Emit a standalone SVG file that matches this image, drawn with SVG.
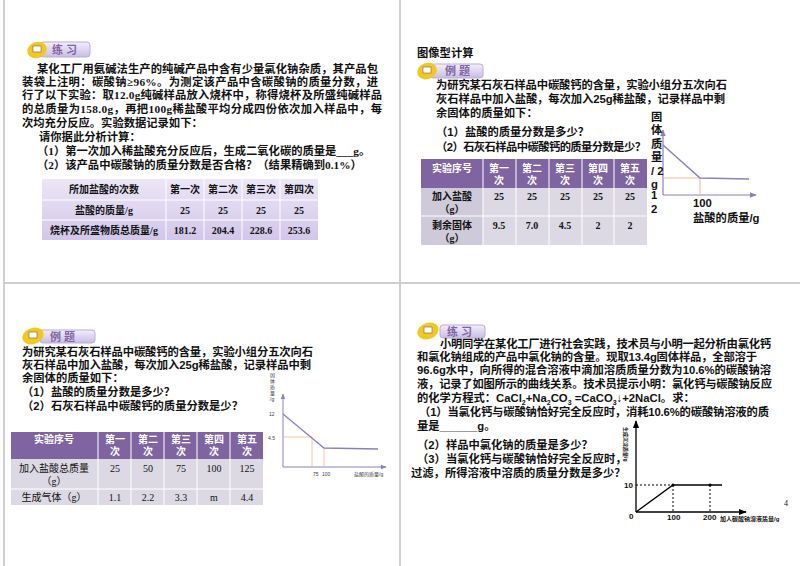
<svg xmlns="http://www.w3.org/2000/svg" width="800" height="566" viewBox="0 0 800 566">
<defs>
<linearGradient id="lav" x1="0" y1="0" x2="0" y2="1"><stop offset="0" stop-color="#ece6f6"/><stop offset="1" stop-color="#d2c6ea"/></linearGradient>
<linearGradient id="badge" x1="0" y1="0" x2="0" y2="1"><stop offset="0" stop-color="#f3eefb"/><stop offset="1" stop-color="#c9bde3"/></linearGradient>
<marker id="ar" viewBox="0 0 10 10" refX="9" refY="5" markerWidth="6" markerHeight="6" orient="auto"><path d="M0,1 L10,5 L0,9 z" fill="#8a80c0"/></marker>
<marker id="ak" viewBox="0 0 10 10" refX="9" refY="5" markerWidth="6" markerHeight="6" orient="auto"><path d="M0,1 L10,5 L0,9 z" fill="#000"/></marker>
</defs>
<style>
text{font-family:"Liberation Sans","Noto Sans CJK SC",sans-serif;fill:#111}
.t{font-size:11.3px;font-weight:bold}
.s{font-family:"Liberation Serif","Noto Sans CJK SC",serif;font-size:11.3px;font-weight:bold}
.c{font-size:10px;font-weight:bold;text-anchor:middle;font-family:"Liberation Serif","Noto Sans CJK SC",serif}
.w{fill:#fff}
.bl{fill:#8064a2;font-size:11px;font-weight:bold}
.g{stroke:#cfcfcf;stroke-width:2;fill:none}
.cell{stroke:#fff;stroke-width:1;fill:none}
.tiny{font-size:5px;fill:#444}
</style>
<rect width="800" height="566" fill="#fff"/>
<g id="frame">
<line class="g" x1="4" y1="0" x2="4" y2="566"/>
<line class="g" x1="400" y1="0" x2="400" y2="566"/>
<line class="g" x1="4" y1="283" x2="800" y2="283"/>
</g>

<g id="q1">
<rect x="40" y="42" width="50" height="15" rx="3" fill="url(#badge)" stroke="#b9acd8"/>
<ellipse cx="37" cy="50" rx="10" ry="8" fill="#f2c81c" transform="rotate(-20 37 50)"/>
<rect x="33" y="46" width="8" height="6" fill="#fff" stroke="#666" stroke-width="0.6"/>
<text class="bl" x="52" y="54">练 习</text>
<text class="s" x="37" y="73" textLength="341">某化工厂用氨碱法生产的纯碱产品中含有少量氯化钠杂质，其产品包</text>
<text class="s" x="22" y="86" textLength="356">装袋上注明：碳酸钠≥96%。为测定该产品中含碳酸钠的质量分数，进</text>
<text class="s" x="22" y="99" textLength="360">行了以下实验：取12.0g纯碱样品放入烧杯中，称得烧杯及所盛纯碱样品</text>
<text class="s" x="22" y="113" textLength="360">的总质量为158.0g，再把100g稀盐酸平均分成四份依次加入样品中，每</text>
<text class="s" x="22" y="127">次均充分反应。实验数据记录如下：</text>
<text class="s" x="39" y="141">请你据此分析计算：</text>
<text class="s" x="37" y="155">（1）第一次加入稀盐酸充分反应后，生成二氧化碳的质量是___g。</text>
<text class="s" x="37" y="169">（2）该产品中碳酸钠的质量分数是否合格？（结果精确到0.1%）</text>
<rect x="42" y="179" width="276" height="61" fill="url(#lav)"/>
<path class="cell" d="M42,200H318M42,220H318M166,179V240M204,179V240M242,179V240M280,179V240"/>
<text class="c" x="104" y="193">所加盐酸的次数</text>
<text class="c" x="185" y="193">第一次</text><text class="c" x="223" y="193">第二次</text><text class="c" x="261" y="193">第三次</text><text class="c" x="299" y="193">第四次</text>
<text class="c" x="104" y="214">盐酸的质量/g</text>
<text class="c" x="185" y="214">25</text><text class="c" x="223" y="214">25</text><text class="c" x="261" y="214">25</text><text class="c" x="299" y="214">25</text>
<text class="c" x="104" y="234">烧杯及所盛物质总质量/g</text>
<text class="c" x="185" y="234">181.2</text><text class="c" x="223" y="234">204.4</text><text class="c" x="261" y="234">228.6</text><text class="c" x="299" y="234">253.6</text>
</g>

<g id="q2">
<text class="t" x="417" y="57">图像型计算</text>
<rect x="430" y="64" width="53" height="14" rx="3" fill="url(#badge)" stroke="#b9acd8"/>
<ellipse cx="427" cy="71" rx="10" ry="8" fill="#f2c81c" transform="rotate(-20 427 71)"/>
<rect x="423" y="67" width="8" height="6" fill="#fff" stroke="#666" stroke-width="0.6"/>
<text class="bl" x="445" y="75">例 题</text>
<text class="t" x="436" y="89" textLength="291">为研究某石灰石样品中碳酸钙的含量，实验小组分五次向石</text>
<text class="t" x="436" y="103" textLength="289">灰石样品中加入盐酸，每次加入25g稀盐酸，记录样品中剩</text>
<text class="t" x="436" y="117">余固体的质量如下：</text>
<text class="t" x="436" y="136">（1）盐酸的质量分数是多少？</text>
<text class="t" x="436" y="151" textLength="210">（2）石灰石样品中碳酸钙的质量分数是少？</text>
<rect x="421" y="159" width="226" height="29" fill="#8064a2"/>
<rect x="421" y="188" width="226" height="57" fill="#dcd9e4"/>
<rect x="421" y="188" width="62" height="57" fill="#cfcad9"/>
<path class="cell" d="M421,216H647M483,159V245M516,159V245M549,159V245M582,159V245M614,159V245"/>
<text class="c w" x="452" y="172">实验序号</text>
<text class="c w" x="499" y="172">第一</text><text class="c w" x="499" y="184">次</text>
<text class="c w" x="532" y="172">第二</text><text class="c w" x="532" y="184">次</text>
<text class="c w" x="565" y="172">第三</text><text class="c w" x="565" y="184">次</text>
<text class="c w" x="598" y="172">第四</text><text class="c w" x="598" y="184">次</text>
<text class="c w" x="630" y="172">第五</text><text class="c w" x="630" y="184">次</text>
<text class="c" x="452" y="200">加入盐酸</text><text class="c" x="452" y="213">（g）</text>
<text class="c" x="499" y="200">25</text><text class="c" x="532" y="200">25</text><text class="c" x="565" y="200">25</text><text class="c" x="598" y="200">25</text><text class="c" x="630" y="200">25</text>
<text class="c" x="452" y="229">剩余固体</text><text class="c" x="452" y="242">（g）</text>
<text class="c" x="499" y="229">9.5</text><text class="c" x="532" y="229">7.0</text><text class="c" x="565" y="229">4.5</text><text class="c" x="598" y="229">2</text><text class="c" x="630" y="229">2</text>
<line x1="663" y1="195" x2="663" y2="130" stroke="#8a80c0" stroke-width="1.2" marker-end="url(#ar)"/>
<line x1="663" y1="195" x2="756" y2="195" stroke="#8a80c0" stroke-width="1.2" marker-end="url(#ar)"/>
<path d="M663,178H700V195" stroke="#f5b88a" fill="none"/>
<path d="M663,145L700,178L749,179" stroke="#8a80c0" stroke-width="1.5" fill="none"/>
<g class="t">
<text x="651" y="121">固</text><text x="651" y="134">体</text><text x="651" y="148">质</text><text x="651" y="161">量</text>
<text x="651" y="175">/ 2</text><text x="651" y="188">g</text><text x="651" y="199">1</text><text x="651" y="213">2</text>
<text x="693" y="207">100</text><text x="693" y="222">盐酸的质量/g</text>
</g>
</g>

<g id="q3">
<rect x="40" y="330" width="55" height="13" rx="3" fill="url(#badge)" stroke="#b9acd8"/>
<ellipse cx="33" cy="336" rx="11" ry="8" fill="#f2c81c" transform="rotate(-20 33 336)"/>
<rect x="29" y="332" width="8" height="6" fill="#fff" stroke="#666" stroke-width="0.6"/>
<text class="bl" x="50" y="341">例 题</text>
<text class="t" x="22" y="356" textLength="291">为研究某石灰石样品中碳酸钙的含量，实验小组分五次向石</text>
<text class="t" x="22" y="369" textLength="289">灰石样品中加入盐酸，每次加入25g稀盐酸，记录样品中剩</text>
<text class="t" x="22" y="382">余固体的质量如下：</text>
<text class="t" x="22" y="396">（1）盐酸的质量分数是多少？</text>
<text class="t" x="22" y="410">（2）石灰石样品中碳酸钙的质量分数是少？</text>
<rect x="11" y="432" width="252" height="27" fill="#8064a2"/>
<rect x="11" y="459" width="252" height="46" fill="#dcd9e4"/>
<path class="cell" d="M11,489H263M98,432V505M131,432V505M164,432V505M197,432V505M230,432V505"/>
<text class="c w" x="54" y="443">实验序号</text>
<text class="c w" x="115" y="443">第一</text><text class="c w" x="115" y="455">次</text>
<text class="c w" x="148" y="443">第二</text><text class="c w" x="148" y="455">次</text>
<text class="c w" x="181" y="443">第三</text><text class="c w" x="181" y="455">次</text>
<text class="c w" x="214" y="443">第四</text><text class="c w" x="214" y="455">次</text>
<text class="c w" x="247" y="443">第五</text><text class="c w" x="247" y="455">次</text>
<text class="c" x="54" y="472" style="font-weight:normal">加入盐酸总质量</text><text class="c" x="54" y="485" style="font-weight:normal">（g）</text>
<text class="c" x="115" y="472" style="font-weight:normal">25</text><text class="c" x="148" y="472" style="font-weight:normal">50</text><text class="c" x="181" y="472" style="font-weight:normal">75</text><text class="c" x="214" y="472" style="font-weight:normal">100</text><text class="c" x="247" y="472" style="font-weight:normal">125</text>
<text class="c" x="54" y="501" style="font-weight:normal">生成气体（g）</text>
<text class="c" x="115" y="501" style="font-weight:normal">1.1</text><text class="c" x="148" y="501" style="font-weight:normal">2.2</text><text class="c" x="181" y="501" style="font-weight:normal">3.3</text><text class="c" x="214" y="501" style="font-weight:normal">m</text><text class="c" x="247" y="501" style="font-weight:normal">4.4</text>
<line x1="283" y1="467" x2="283" y2="394" stroke="#8a80c0" marker-end="url(#ar)"/>
<line x1="283" y1="467" x2="386" y2="467" stroke="#8a80c0" marker-end="url(#ar)"/>
<path d="M283,437H312V467M324,448V467" stroke="#f5b88a" fill="none" stroke-width="0.8"/>
<path d="M283,414L324,448L378,449" stroke="#8a80c0" stroke-width="1.3" fill="none"/>
<text class="tiny" x="270" y="377">固</text><text class="tiny" x="270" y="383">体</text><text class="tiny" x="270" y="389">质</text><text class="tiny" x="270" y="395">量</text><text class="tiny" x="270" y="401">/g</text>
<text class="tiny" x="269" y="416">12</text>
<text class="tiny" x="268" y="440">4.5</text>
<text class="tiny" x="313" y="476">75</text><text class="tiny" x="322" y="476">100</text>
<text class="tiny" x="354" y="476">盐酸的质量/g</text>
</g>

<g id="q4">
<rect x="440" y="325" width="45" height="13" rx="3" fill="url(#badge)" stroke="#b9acd8"/>
<ellipse cx="428" cy="331" rx="11" ry="8" fill="#f2c81c" transform="rotate(-20 428 331)"/>
<rect x="424" y="327" width="8" height="6" fill="#fff" stroke="#666" stroke-width="0.6"/>
<text class="bl" x="447" y="336">练 习</text>
<text class="t" x="440" y="348" textLength="331">小明同学在某化工厂进行社会实践，技术员与小明一起分析由氯化钙</text>
<text class="t" x="417" y="361" textLength="340">和氯化钠组成的产品中氯化钠的含量。现取13.4g固体样品，全部溶于</text>
<text class="t" x="417" y="374" textLength="354">96.6g水中，向所得的混合溶液中滴加溶质质量分数为10.6%的碳酸钠溶</text>
<text class="t" x="417" y="388" textLength="355">液，记录了如图所示的曲线关系。技术员提示小明：氯化钙与碳酸钠反应</text>
<text class="t" x="417" y="402">的化学方程式：CaCl<tspan font-size="7" dy="3">2</tspan><tspan dy="-3">+Na</tspan><tspan font-size="7" dy="3">2</tspan><tspan dy="-3">CO</tspan><tspan font-size="7" dy="3">3</tspan><tspan dy="-3"> =CaCO</tspan><tspan font-size="7" dy="3">3</tspan><tspan dy="-3">↓+2NaCl。求：</tspan></text>
<text class="t" x="419" y="416" textLength="350">（1）当氯化钙与碳酸钠恰好完全反应时，消耗10.6%的碳酸钠溶液的质</text>
<text class="t" x="417" y="430">量是______g。</text>
<text class="t" x="417" y="449">（2）样品中氯化钠的质量是多少？</text>
<text class="t" x="417" y="463">（3）当氯化钙与碳酸钠恰好完全反应时，</text>
<text class="t" x="411" y="477">过滤，所得溶液中溶质的质量分数是多少？</text>
<line x1="636" y1="512" x2="636" y2="421" stroke="#000" stroke-width="1.3" marker-end="url(#ak)"/>
<line x1="636" y1="512" x2="746" y2="512" stroke="#000" stroke-width="1.3" marker-end="url(#ak)"/>
<path d="M636,485H673M673,485V512M710,485V512" stroke="#000" stroke-dasharray="2,2" fill="none"/>
<path d="M636,512L673,485L722,485" stroke="#000" stroke-width="1.3" fill="none"/>
<circle cx="673" cy="485" r="1.6"/><circle cx="710" cy="485" r="1.6"/>
<g style="font-family:'Liberation Serif',serif;font-weight:bold;font-size:8px">
<text x="624" y="488">10</text><text x="629" y="519">0</text><text x="667" y="520">100</text><text x="703" y="520">200</text>
</g>
<text x="784" y="506" style="font-family:'Liberation Serif',serif;font-size:8px">4</text>
<text x="720" y="521" style="font-size:6px;font-weight:bold">加人碳酸钠溶液质量/g</text>
<text style="font-size:5px;font-weight:bold" transform="translate(624,427) rotate(90)">生成沉淀质量/g</text>
</g>
</svg>
